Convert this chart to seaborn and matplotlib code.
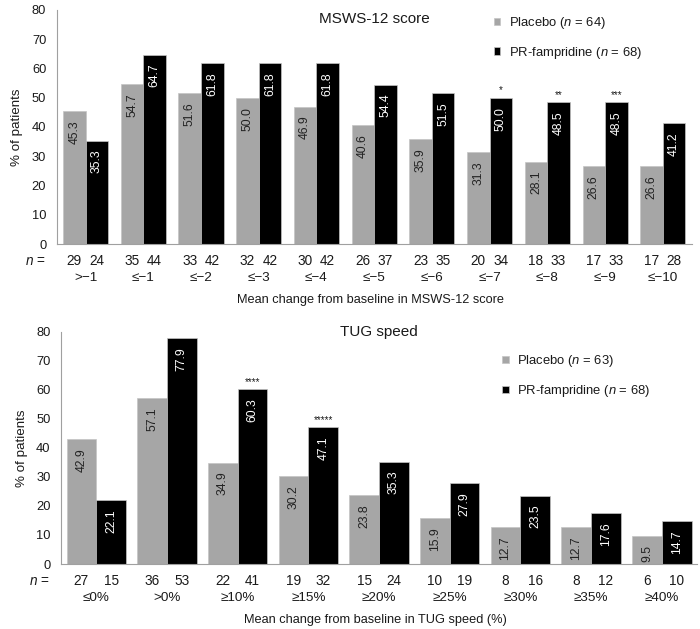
import numpy as np
import pandas as pd
import matplotlib.pyplot as plt
import seaborn as sns

# MSWS-12 panel
msws_cats = [">−1", "≤−1", "≤−2", "≤−3", "≤−4", "≤−5", "≤−6", "≤−7", "≤−8", "≤−9", "≤−10"]
msws_placebo = [45.3, 54.7, 51.6, 50.0, 46.9, 40.6, 35.9, 31.3, 28.1, 26.6, 26.6]
msws_pr = [35.3, 64.7, 61.8, 61.8, 61.8, 54.4, 51.5, 50.0, 48.5, 48.5, 41.2]
msws_n_placebo = [29, 35, 33, 32, 30, 26, 23, 20, 18, 17, 17]
msws_n_pr = [24, 44, 42, 42, 42, 37, 35, 34, 33, 33, 28]
msws_stars = ["", "", "", "", "", "", "", "*", "**", "***", ""]

# TUG panel
tug_cats = ["≤0%", ">0%", "≥10%", "≥15%", "≥20%", "≥25%", "≥30%", "≥35%", "≥40%"]
tug_placebo = [42.9, 57.1, 34.9, 30.2, 23.8, 15.9, 12.7, 12.7, 9.5]
tug_pr = [22.1, 77.9, 60.3, 47.1, 35.3, 27.9, 23.5, 17.6, 14.7]
tug_n_placebo = [27, 36, 22, 19, 15, 10, 8, 8, 6]
tug_n_pr = [15, 53, 41, 32, 24, 19, 16, 12, 10]
tug_stars = ["", "", "****", "*****", "", "", "", "", ""]

sns.set_style("white")
plt.rcParams['font.family'] = ['Liberation Sans', 'DejaVu Sans']
plt.rcParams['mathtext.fontset'] = 'custom'
plt.rcParams['mathtext.it'] = 'Liberation Sans:italic'
plt.rcParams['mathtext.rm'] = 'Liberation Sans'

GREY = '#a6a6a6'
AXIS_GREY = '#a0a0a0'
TXT = '#1a1a1a'


def draw_panel(ax, cats, placebo, pr, n_pl, n_pr, stars, title, labels,
               xlabel, width, leg_xy, title_y):
    df = pd.DataFrame({
        'cat': cats * 2,
        'pct': placebo + pr,
        'grp': [labels[0]] * len(cats) + [labels[1]] * len(cats),
    })
    sns.barplot(data=df, x='cat', y='pct', hue='grp', palette=[GREY, 'black'],
                width=width, saturation=1, ax=ax, edgecolor='#c4c4c4',
                linewidth=0.5, errorbar=None)

    ax.set_ylim(0, 80)
    ax.set_xlim(-0.5, len(cats) - 0.5)
    ax.set_yticks(range(0, 81, 10))
    ax.set_xticks(np.arange(len(cats) + 1) - 0.5, labels=[])
    ax.tick_params(axis='both', direction='out', length=4, width=0.8,
                   color=AXIS_GREY, labelsize=9.3, labelcolor=TXT)
    ax.tick_params(axis='x', length=5)
    sns.despine(ax=ax)
    for s in ['left', 'bottom']:
        ax.spines[s].set_color(AXIS_GREY)
        ax.spines[s].set_linewidth(0.8)
    ax.set_xlabel('')
    ax.set_ylabel('% of patients', fontsize=9.6, color=TXT, labelpad=6)

    # value labels, n row, stars
    for cont, vals, ns, col in [(ax.containers[0], placebo, n_pl, '#222222'),
                                (ax.containers[1], pr, n_pr, 'white')]:
        for patch, v, n in zip(cont.patches, vals, ns):
            cx = patch.get_x() + patch.get_width() / 2
            ax.annotate(f"{v:.1f}", xy=(cx, v), xytext=(0, -6.5),
                        textcoords='offset points', rotation=90, ha='center',
                        va='top', fontsize=8.7, color=col)
            ax.annotate(str(n), xy=(cx, 0), xycoords=('data', 'axes fraction'),
                        xytext=(0, -12.3), textcoords='offset points',
                        ha='center', va='center', fontsize=9.8, color=TXT)
    for patch, v, s in zip(ax.containers[1].patches, pr, stars):
        if s:
            cx = patch.get_x() + patch.get_width() / 2
            ax.annotate(s, xy=(cx, v), xytext=(0, 1.5), textcoords='offset points',
                        ha='center', va='bottom', fontsize=7, color=TXT)

    for i, c in enumerate(cats):
        ax.annotate(c, xy=(i, 0), xycoords=('data', 'axes fraction'),
                    xytext=(0, -24.5), textcoords='offset points',
                    ha='center', va='center', fontsize=9.7, color=TXT)
    ax.annotate('$n$ =', xy=(0, 0), xycoords='axes fraction', xytext=(-8, -12.3),
                textcoords='offset points', ha='right', va='center',
                fontsize=9.8, color=TXT)
    ax.annotate(xlabel, xy=(0.495, 0), xycoords='axes fraction',
                xytext=(0, -40), textcoords='offset points', ha='center',
                va='center', fontsize=9.2, color=TXT)

    ax.text(0.5, title_y, title, transform=ax.transAxes, ha='center',
            va='center', fontsize=11, color=TXT)
    ax.legend(loc='upper left', bbox_to_anchor=leg_xy, frameon=False,
              fontsize=9.4, handlelength=0.5, handleheight=0.5,
              handletextpad=0.65, labelspacing=1.05, borderaxespad=0)
    for t in ax.get_legend().get_texts():
        t.set_color(TXT)


fig = plt.figure(figsize=(7, 6.29), dpi=100)
ax1 = fig.add_axes([0.081, 0.612, 0.907, 0.3725])
ax2 = fig.add_axes([0.087, 0.1033, 0.909, 0.3693])

draw_panel(ax1, msws_cats, msws_placebo, msws_pr, msws_n_placebo, msws_n_pr,
           msws_stars, 'MSWS-12 score',
           ['Placebo ($n$ = 64)', 'PR-fampridine ($n$ = 68)'],
           'Mean change from baseline in MSWS-12 score', 0.78, (0.68, 1.0), 0.962)
draw_panel(ax2, tug_cats, tug_placebo, tug_pr, tug_n_placebo, tug_n_pr,
           tug_stars, 'TUG speed',
           ['Placebo ($n$ = 63)', 'PR-fampridine ($n$ = 68)'],
           'Mean change from baseline in TUG speed (%)', 0.84, (0.685, 0.93), 1.0)

fig.savefig('out.png', dpi=100)
